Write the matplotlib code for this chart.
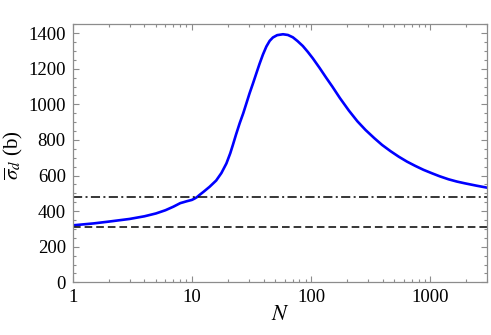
import matplotlib
matplotlib.use("Agg")
import matplotlib.pyplot as plt
from matplotlib.ticker import FixedLocator, NullFormatter, MultipleLocator

N_vals = [1, 1.5, 2, 3, 4, 5, 6, 7, 8, 8.5, 9, 10, 10.5, 11, 11.6, 12.5, 14.1, 16,
          17.7, 19.5, 21, 22.1, 23.5, 25.2, 27, 28.7, 30.5, 32.6, 35, 37, 39.5,
          42.2, 45, 47.9, 52, 58.2, 64, 70.4, 77, 85.4, 94, 103.5, 118, 134, 151,
          175, 208, 245, 287, 340, 395, 465, 545, 640, 751, 880, 1033, 1200, 1425,
          1680, 1964, 2450, 3000]
sigma_vals = [320, 331, 341, 356, 371, 387, 405, 425, 445, 450, 455, 463, 470, 478,
              491, 508, 537, 572, 614, 668, 725, 772, 831, 894, 950, 1006, 1062,
              1118, 1180, 1228, 1280, 1325, 1357, 1376, 1389, 1394, 1390, 1377,
              1356, 1328, 1295, 1259, 1205, 1150, 1100, 1035, 965, 905, 856, 810,
              772, 737, 706, 678, 654, 632, 613, 596, 579, 566, 556, 543, 532]
level_dashdot = 480
level_dashed = 310
x_ticks = [1, 10, 100, 1000]
x_ticklabels = ["1", "10", "100", "1000"]
y_ticks = [0, 200, 400, 600, 800, 1000, 1200, 1400]

plt.rcParams['font.family'] = ['Liberation Serif', 'DejaVu Serif']
plt.rcParams['mathtext.fontset'] = 'stix'

fig = plt.figure(figsize=(4.91, 3.35), dpi=100)
ax = fig.add_axes([72.7 / 491, 1 - 282.3 / 335, (487 - 72.7) / 491, (282.3 - 24.3) / 335])

ax.plot(N_vals, sigma_vals, color='#0000ff', lw=1.9, solid_capstyle='round',
        solid_joinstyle='round')
ax.axhline(level_dashdot, color='black', lw=1.1, dashes=(6, 2.2, 1.3, 2.2))
ax.axhline(level_dashed, color='black', lw=1.1, dashes=(5, 2.6))

ax.set_xscale('log')
ax.set_xlim(1, 3000)
ax.set_ylim(0, 1450)

ax.xaxis.set_major_locator(FixedLocator(x_ticks))
ax.set_xticklabels(x_ticklabels)
minor_x = [m * 10 ** e for e in range(0, 4) for m in range(2, 10) if m * 10 ** e <= 3000]
ax.xaxis.set_minor_locator(FixedLocator(minor_x))
ax.xaxis.set_minor_formatter(NullFormatter())
ax.yaxis.set_major_locator(FixedLocator(y_ticks))
ax.yaxis.set_minor_locator(MultipleLocator(50))

for s in ax.spines.values():
    s.set_color('#8c8c8c')
    s.set_linewidth(0.9)

ax.tick_params(which='both', direction='in', top=True, right=True, color='#8c8c8c',
               labelsize=13.5, labelcolor='black', width=0.8)
ax.tick_params(which='major', length=4, pad=5)
ax.tick_params(which='minor', length=2.3)

ax.set_xlabel(r'$N$', fontsize=16, labelpad=0)
fig.text(13 / 491, 1 - 155 / 335, r'$\overline{\sigma}_d$ (b)', fontsize=15,
         rotation=90, ha='center', va='center')

fig.savefig('out.png', dpi=100)
